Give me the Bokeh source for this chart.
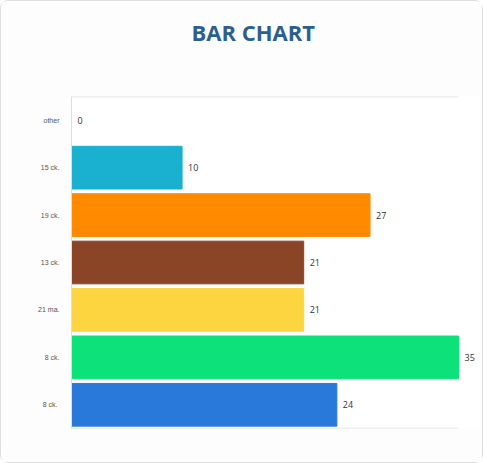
from bokeh.plotting import figure
from bokeh.models import ColumnDataSource, Range1d, FactorRange, LabelSet, Title
from bokeh.embed import file_html
from bokeh.resources import INLINE
from bokeh.core.properties import value

categories = ["other", "15 ck.", "19 ck.", "13 ck.", "21 ma.", "8 ck.", "8 ck. "]
values = [0, 10, 27, 21, 21, 35, 24]
colors = ["#1ab0cf", "#1ab0cf", "#ff8a00", "#8a4426", "#fcd540", "#0de27a", "#2979db"]
title_text = "BAR CHART"

src = ColumnDataSource(dict(cat=categories, val=values, color=colors,
                            lab=[str(v) for v in values]))

n = len(categories)
vmax = max(values)
p = figure(width=483, height=463, output_backend="svg", toolbar_location=None,
           y_range=FactorRange(*list(reversed(categories)), range_padding=0),
           x_range=Range1d(0, vmax * 408 / 387))
p.min_border_left = 70
p.min_border_right = 5
p.min_border_top = 95
p.min_border_bottom = 36

spacer = Title(text=" ", text_font_size="43px", standoff=0)
p.add_layout(spacer, "above")
main_title = Title(text=title_text, align="left", offset=120, text_font="Open Sans",
                   text_font_size="22px", text_color="#2d5f8e", text_font_style="bold",
                   standoff=0)
p.add_layout(main_title, "above")

# top and bottom rules
p.segment(x0=[0, 0], x1=[vmax, vmax], y0=[n, 0], y1=[n, 0], line_color="#dddddd", line_width=1.5)

p.hbar(y="cat", right="val", height=0.9, color="color", source=src)
labels = LabelSet(x="val", y="cat", text="lab", source=src, x_offset=6, y_offset=0,
                  text_baseline="middle", text_font_size="9px", text_color="#333333",
                  text_font=value("Open Sans"))
p.add_layout(labels)

p.xaxis.visible = False
p.xgrid.visible = False
p.ygrid.visible = False
p.yaxis.major_tick_line_color = None
p.yaxis.minor_tick_line_color = None
p.yaxis.axis_line_color = "#dddddd"
p.yaxis.major_label_text_font_size = "7px"
p.yaxis.major_label_text_color = "#555555"
p.yaxis.major_label_standoff = 6
p.outline_line_color = None
p.background_fill_color = "#ffffff"
p.border_fill_color = "#fdfdfd"
p.styles = {"border": "1px solid #dddddd", "border-radius": "8px", "box-sizing": "border-box"}

open("out.html", "w").write(file_html(p, INLINE))
